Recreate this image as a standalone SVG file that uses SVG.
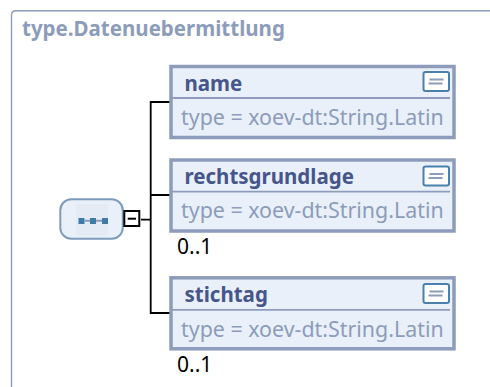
<svg xmlns="http://www.w3.org/2000/svg" width="490" height="387" viewBox="0 0 490 387">
<style>
.box{fill:#e9f0f9;stroke:#8c9cba;stroke-width:3.500}
.sep{stroke:#8c9cba;stroke-width:1.800;fill:none}
.nm{font:bold 20.500px "Noto Sans","DejaVu Sans",sans-serif;fill:#46568b}
.ty{font:21.400px "Noto Sans","DejaVu Sans",sans-serif;fill:#8c9cba}
.oc{font:21px "Noto Sans","DejaVu Sans",sans-serif;fill:#000}
.ic{fill:#fff;stroke:#4a80ac;stroke-width:2}
.il{stroke:#8c9cba;stroke-width:2}
.cn{fill:none;stroke:#000;stroke-width:1.800}
</style>
<defs>
<g id="icon"><rect class="ic" x="1" y="1" width="25.500" height="19" rx="2"/><path class="il" d="M7 8.500H21M6 12.500H20"/></g>
</defs>
<path id="frame" d="M11.500 400V15Q11.500 10.700 16 10.700H500" fill="#fff" stroke="#8c9cba" stroke-width="1.400"/>
<text x="22" y="36" style="font:bold 20.500px 'Noto Sans','DejaVu Sans',sans-serif;fill:#8c9cba">type.Datenuebermittlung</text>
<g id="connectors">
<path class="cn" d="M170 102H150.700V313H170M150.700 195H170M141 219.700H150.700"/>
</g>
<g id="compositor">
<rect x="60.300" y="199.300" width="62.500" height="39.400" rx="11" fill="#e9f0f9" stroke="#7d9cbc" stroke-width="2"/>
<rect x="76" y="204" width="32" height="31.500" fill="#e4ebf5"/>
<path d="M85 220.800H90M96 220.800H102" stroke="#8c9cba" stroke-width="2"/>
<g fill="#3f7ba8"><rect x="78.500" y="218" width="6" height="6"/><rect x="90" y="218" width="6" height="6"/><rect x="102" y="218" width="6" height="6"/></g>
<rect x="124.300" y="211" width="15" height="15" fill="#fff" stroke="#000" stroke-width="2"/>
<path d="M127.700 218.700H136" stroke="#000" stroke-width="2"/>
</g>
<g id="name">
<rect class="box" x="171" y="66.500" width="283" height="71"/><path class="sep" d="M172 98H450"/>
<text class="nm" x="184.500" y="91.300">name</text><use href="#icon" x="422.500" y="71"/>
<text class="ty" x="181" y="125.300">type = xoev-dt:String.Latin</text>
</g>
<g id="rechtsgrundlage">
<rect class="box" x="171" y="160" width="283" height="71"/><path class="sep" d="M172 191.700H450"/>
<text class="nm" x="184.500" y="184.300">rechtsgrundlage</text><use href="#icon" x="422.500" y="165.500"/>
<text class="ty" x="181" y="218">type = xoev-dt:String.Latin</text>
<text class="oc" x="177" y="254">0..1</text>
</g>
<g id="stichtag">
<rect class="box" x="171" y="277.800" width="283" height="71"/><path class="sep" d="M172 309.800H450"/>
<text class="nm" x="184.500" y="301.700">stichtag</text><use href="#icon" x="422.500" y="283"/>
<text class="ty" x="181" y="337">type = xoev-dt:String.Latin</text>
<text class="oc" x="177" y="371.500">0..1</text>
</g>
</svg>
